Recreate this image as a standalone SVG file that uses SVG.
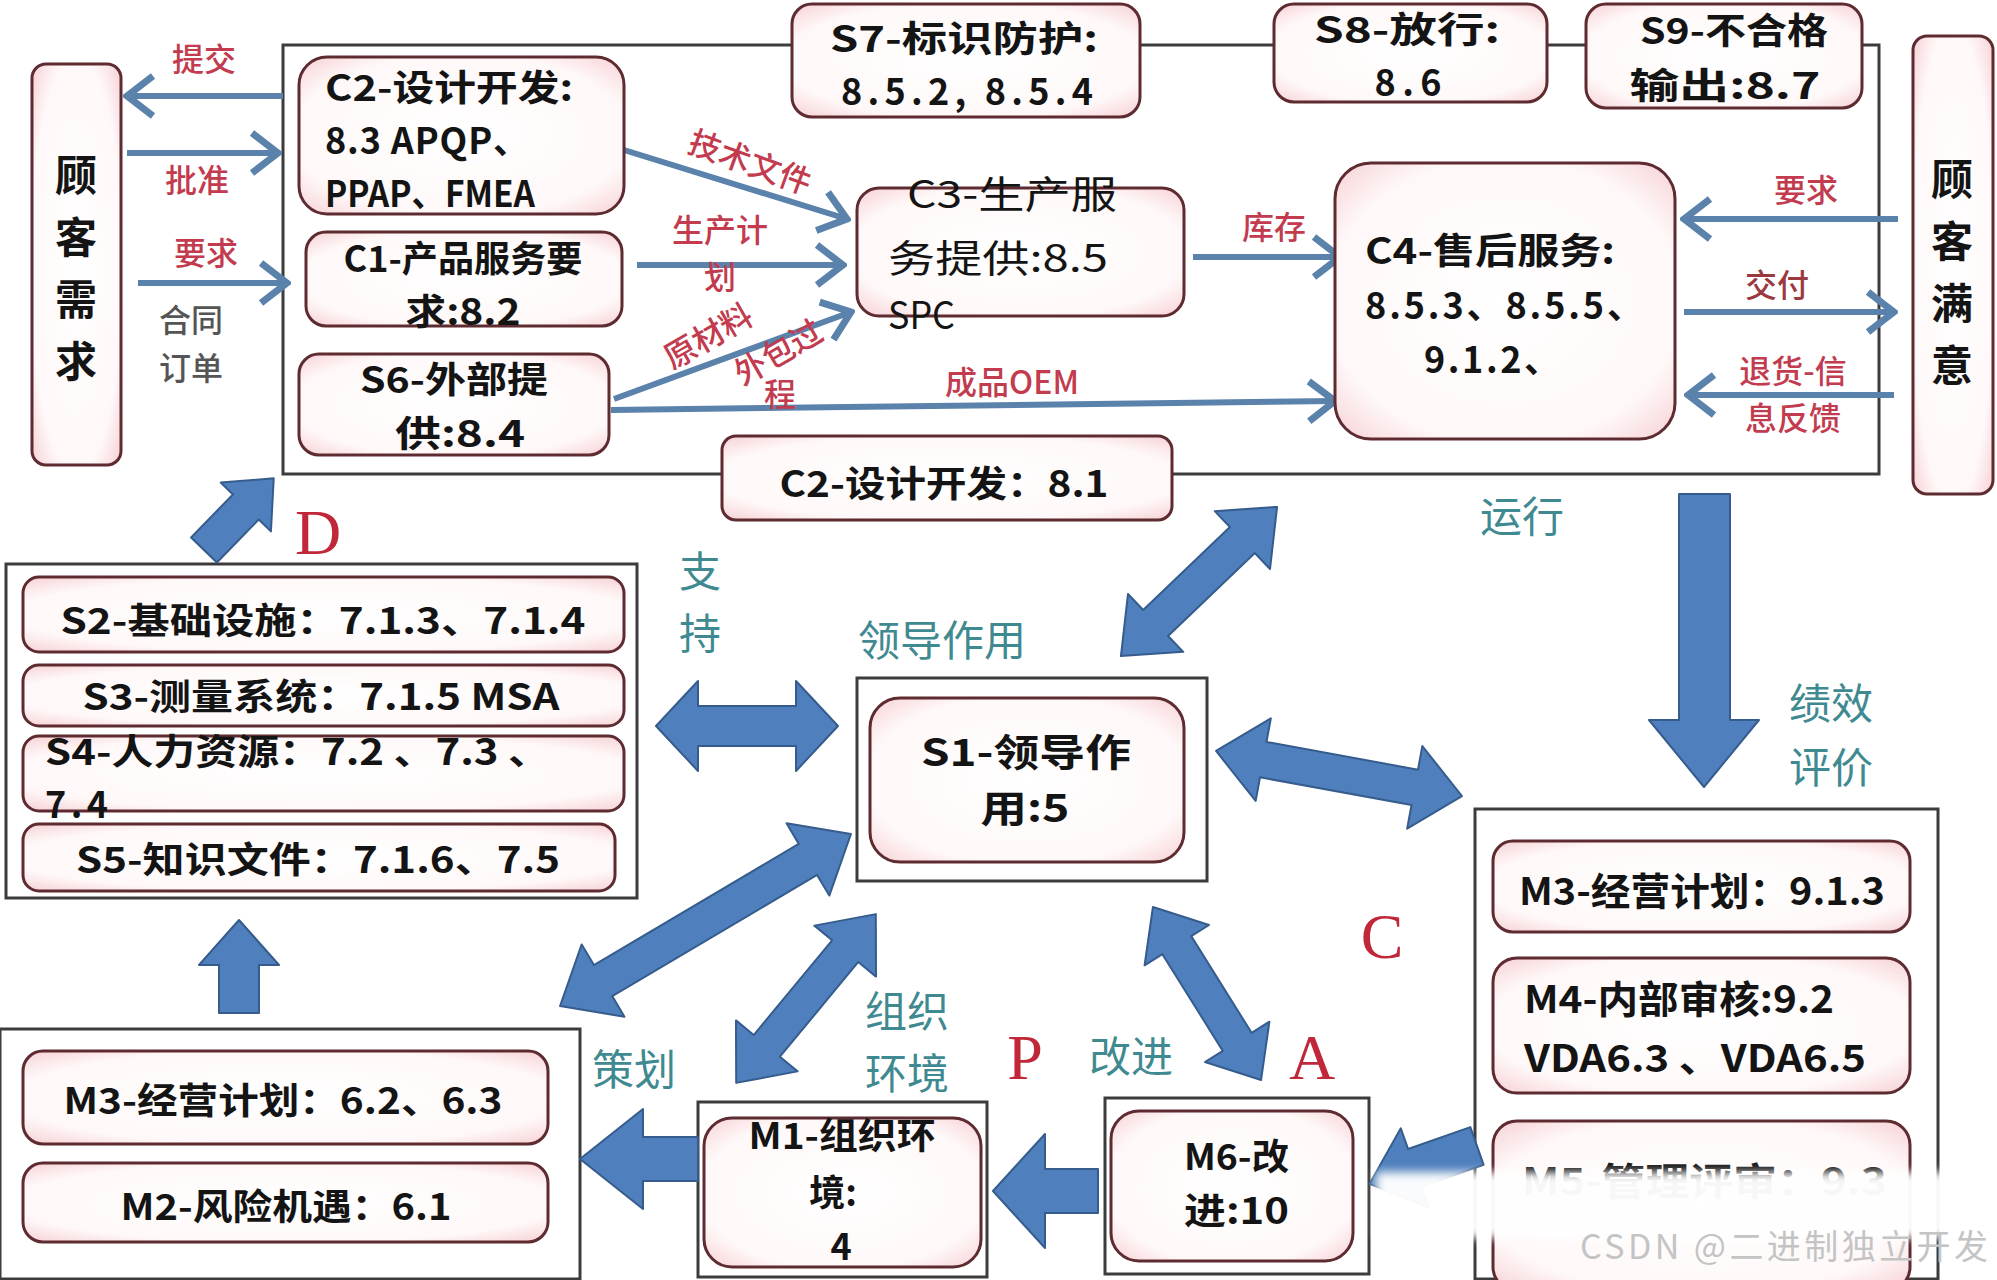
<svg xmlns="http://www.w3.org/2000/svg" width="1997" height="1280" viewBox="0 0 1997 1280">
<defs>
<radialGradient id="pk" cx="0.5" cy="0.5" r="0.72">
<stop offset="0" stop-color="#ffffff"/>
<stop offset="0.72" stop-color="#fff8f8"/>
<stop offset="1" stop-color="#f5cdd2"/>
</radialGradient>
<marker id="chev" markerUnits="userSpaceOnUse" viewBox="-32 -26 36 52" refX="0" refY="0" markerWidth="36" markerHeight="52" orient="auto">
<path d="M-26,-20 L0,0 L-26,20" fill="none" stroke="#5a82ab" stroke-width="7" stroke-linejoin="miter"/>
</marker>
<filter id="blur" x="-5%" y="-40%" width="110%" height="180%"><feGaussianBlur stdDeviation="5"/></filter>
<style>
.box{fill:url(#pk);stroke:#5e2b31;stroke-width:3}
.frame{fill:#fff;stroke:#3c3c3c;stroke-width:3}
.t{font-family:"Noto Sans CJK SC","Liberation Sans",sans-serif;font-weight:700;font-size:36px;fill:#141414;dominant-baseline:central}
.b{font-size:38px}
.v{font-size:42px;text-anchor:middle}
.r{font-weight:400;font-size:38px}
.m{text-anchor:middle}
.lr{font-family:"Noto Sans CJK SC","Liberation Sans",sans-serif;font-weight:500;font-size:32px;fill:#c23b4e;text-anchor:middle;dominant-baseline:central}
.lg{fill:#555}
.lt{font-family:"Noto Sans CJK SC","Liberation Sans",sans-serif;font-size:42px;fill:#3f8a90;text-anchor:middle;dominant-baseline:central}
.pd{font-family:"Liberation Serif",serif;font-size:64px;fill:#c0283a;text-anchor:middle;dominant-baseline:central}
.blk{fill:#4f80bd;stroke:#355c8c;stroke-width:2;stroke-linejoin:round}
.thin{stroke:#5a82ab;stroke-width:6;fill:none;marker-end:url(#chev)}
</style>
</defs>
<rect width="1997" height="1280" fill="#fff"/>

<g id="frames">
<rect class="frame" x="283" y="45" width="1596" height="429"/>
<rect class="frame" x="6" y="564" width="631" height="334"/>
<rect class="frame" x="857" y="678" width="350" height="203"/>
<rect class="frame" x="1475" y="809" width="463" height="470"/>
<rect class="frame" x="0" y="1029" width="580" height="250"/>
<rect class="frame" x="698" y="1102" width="289" height="175"/>
<rect class="frame" x="1105" y="1098" width="264" height="176"/>
</g>

<g id="connectors">
<line class="thin" x1="283" y1="96" x2="127" y2="96"/>
<line class="thin" x1="127" y1="153" x2="278" y2="153"/>
<line class="thin" x1="138" y1="283" x2="287" y2="283"/>
<line class="thin" x1="624" y1="150" x2="847" y2="219"/>
<line class="thin" x1="637" y1="265" x2="843" y2="265"/>
<line class="thin" x1="614" y1="399" x2="851" y2="312"/>
<line class="thin" x1="611" y1="410" x2="1335" y2="401"/>
<line class="thin" x1="1193" y1="257" x2="1340" y2="257"/>
<line class="thin" x1="1898" y1="219" x2="1684" y2="219"/>
<line class="thin" x1="1684" y1="312" x2="1894" y2="312"/>
<line class="thin" x1="1894" y1="395" x2="1688" y2="395"/>
<polygon class="blk" transform="translate(747,726)" points="-91,0 -49,-45 -49,-20 49,-20 49,-45 91,0 49,45 49,20 -49,20 -49,45"/>
<polygon class="blk" transform="translate(1199,581.5) rotate(-43.7)" points="-108,0 -60,-40 -60,-18 60,-18 60,-40 108,0 60,40 60,18 -60,18 -60,40"/>
<polygon class="blk" transform="translate(1339,773.5) rotate(10.4)" points="-125,0 -77,-42 -77,-18 77,-18 77,-42 125,0 77,42 77,18 -77,18 -77,42"/>
<polygon class="blk" transform="translate(705.5,920) rotate(-30.6)" points="-169,0 -119,-42 -119,-18 119,-18 119,-42 169,0 119,42 119,18 -119,18 -119,42"/>
<polygon class="blk" transform="translate(806,998.5) rotate(-50.4)" points="-109.5,0 -61.5,-40 -61.5,-17 61.5,-17 61.5,-40 109.5,0 61.5,40 61.5,17 -61.5,17 -61.5,40"/>
<polygon class="blk" transform="translate(1207,993.5) rotate(58)" points="-102,0 -57,-38 -57,-17 57,-17 57,-38 102,0 57,38 57,17 -57,17 -57,38"/>
<polygon class="blk" points="1679,494 1730,494 1730,720 1759,720 1704,787 1649,720 1679,720"/>
<polygon class="blk" points="1098,1169 1045,1169 1045,1134 993,1191 1045,1248 1045,1213 1098,1213"/>
<polygon class="blk" points="698,1137 643,1137 643,1109 580,1159 643,1209 643,1181 698,1181"/>
<polygon class="blk" points="219,1013 219,965 199,965 239,920 279,965 259,965 259,1013"/>
<polygon class="blk" transform="translate(204,550) rotate(-45.8)" points="0,-18 60,-18 60,-35 100,0 60,35 60,18 0,18"/>
<polygon class="blk" transform="translate(1477,1146) rotate(160.6)" points="0,-20 66,-20 66,-42 114,0 66,42 66,20 0,20"/>
</g>

<g id="n-cust-req"><rect class="box" x="32" y="64" width="89" height="401" rx="14"/>
<text class="t v"><tspan x="76" y="172">顾</tspan><tspan x="76" y="234">客</tspan><tspan x="76" y="296">需</tspan><tspan x="76" y="358">求</tspan></text></g>
<g id="n-cust-sat"><rect class="box" x="1913" y="36" width="80" height="458" rx="14"/>
<text class="t v"><tspan x="1952" y="176">顾</tspan><tspan x="1952" y="238">客</tspan><tspan x="1952" y="300">满</tspan><tspan x="1952" y="362">意</tspan></text></g>

<g id="n-c2"><rect class="box" x="299" y="57" width="325" height="157" rx="28"/>
<text class="t"><tspan x="325" y="85" textLength="248" lengthAdjust="spacingAndGlyphs">C2-设计开发:</tspan><tspan x="325" y="138" textLength="204">8.3 APQP、</tspan><tspan x="325" y="191" textLength="210" lengthAdjust="spacingAndGlyphs">PPAP、FMEA</tspan></text></g>
<g id="n-c1"><rect class="box" x="306" y="232" width="316" height="94" rx="20"/>
<text class="t m"><tspan x="463" y="256" textLength="239" lengthAdjust="spacingAndGlyphs">C1-产品服务要</tspan><tspan x="463" y="309" textLength="115" lengthAdjust="spacingAndGlyphs">求:8.2</tspan></text></g>
<g id="n-s6"><rect class="box" x="299" y="354" width="310" height="101" rx="20"/>
<text class="t m"><tspan x="454" y="377" textLength="188" lengthAdjust="spacingAndGlyphs">S6-外部提</tspan><tspan x="460" y="431" textLength="130" lengthAdjust="spacingAndGlyphs">供:8.4</tspan></text></g>
<g id="n-s7"><rect class="box" x="792" y="4" width="348" height="113" rx="20"/>
<text class="t m"><tspan x="964" y="36" textLength="268" lengthAdjust="spacingAndGlyphs">S7-标识防护:</tspan><tspan x="967" y="89" textLength="252">8.5.2, 8.5.4</tspan></text></g>
<g id="n-s8"><rect class="box" x="1274" y="4" width="273" height="98" rx="20"/>
<text class="t m"><tspan x="1407" y="27" textLength="186" lengthAdjust="spacingAndGlyphs">S8-放行:</tspan><tspan x="1408" y="80" textLength="67">8.6</tspan></text></g>
<g id="n-s9"><rect class="box" x="1586" y="4" width="276" height="104" rx="20"/>
<text class="t m"><tspan x="1734" y="28" textLength="188" lengthAdjust="spacingAndGlyphs">S9-不合格</tspan><tspan x="1725" y="83" textLength="191" lengthAdjust="spacingAndGlyphs">输出:8.7</tspan></text></g>
<g id="n-c3"><rect class="box" x="857" y="188" width="327" height="128" rx="22"/>
<text class="t r"><tspan x="1012" y="191" text-anchor="middle" textLength="210" lengthAdjust="spacingAndGlyphs">C3-生产服</tspan><tspan x="888" y="255" textLength="220" lengthAdjust="spacingAndGlyphs">务提供:8.5</tspan><tspan x="888" y="312" textLength="67" lengthAdjust="spacingAndGlyphs">SPC</tspan></text></g>
<g id="n-c4"><rect class="box" x="1335" y="163" width="340" height="276" rx="36"/>
<text class="t"><tspan x="1365" y="248" textLength="250" lengthAdjust="spacingAndGlyphs">C4-售后服务:</tspan><tspan x="1365" y="303" textLength="278">8.5.3、8.5.5、</tspan><tspan x="1424" y="357" textLength="136">9.1.2、</tspan></text></g>
<g id="n-c2b"><rect class="box" x="722" y="436" width="450" height="84" rx="14"/>
<text class="t m" x="944" y="481" textLength="329" lengthAdjust="spacingAndGlyphs">C2-设计开发：8.1</text></g>

<g id="n-s2"><rect class="box" x="23" y="577" width="601" height="75" rx="16"/>
<text class="t m" x="323" y="618" textLength="525" lengthAdjust="spacingAndGlyphs">S2-基础设施：7.1.3、7.1.4</text></g>
<g id="n-s3"><rect class="box" x="23" y="665" width="601" height="61" rx="16"/>
<text class="t m" x="321" y="694" textLength="477" lengthAdjust="spacingAndGlyphs">S3-测量系统：7.1.5  MSA</text></g>
<g id="n-s4"><rect class="box" x="23" y="736" width="601" height="75" rx="16"/>
<text class="t"><tspan x="45" y="749" textLength="505" lengthAdjust="spacingAndGlyphs">S4-人力资源：7.2 、7.3 、</tspan><tspan x="45" y="802" textLength="63">7.4</tspan></text></g>
<g id="n-s5"><rect class="box" x="23" y="824" width="592" height="67" rx="16"/>
<text class="t m" x="318" y="857" textLength="484" lengthAdjust="spacingAndGlyphs">S5-知识文件：7.1.6、7.5</text></g>

<g id="n-s1"><rect class="box" x="870" y="698" width="314" height="164" rx="30"/>
<text class="t m b"><tspan x="1026" y="749" textLength="210" lengthAdjust="spacingAndGlyphs">S1-领导作</tspan><tspan x="1025" y="805" textLength="89" lengthAdjust="spacingAndGlyphs">用:5</tspan></text></g>

<g id="n-m3b"><rect class="box" x="1493" y="841" width="417" height="91" rx="20"/>
<text class="t b" x="1519" y="888" textLength="366" lengthAdjust="spacingAndGlyphs">M3-经营计划：9.1.3</text></g>
<g id="n-m4"><rect class="box" x="1493" y="958" width="417" height="135" rx="24"/>
<text class="t b"><tspan x="1524" y="996" textLength="310" lengthAdjust="spacingAndGlyphs">M4-内部审核:9.2</tspan><tspan x="1524" y="1055" textLength="342" lengthAdjust="spacingAndGlyphs">VDA6.3 、VDA6.5</tspan></text></g>
<g id="n-m5"><rect class="box" x="1493" y="1121" width="417" height="170" rx="24"/>
<text class="t b" x="1522" y="1178" textLength="365" lengthAdjust="spacingAndGlyphs">M5-管理评审：9.3</text></g>

<g id="n-m3a"><rect class="box" x="23" y="1051" width="525" height="93" rx="20"/>
<text class="t m" x="283" y="1098" textLength="439" lengthAdjust="spacingAndGlyphs">M3-经营计划：6.2、6.3</text></g>
<g id="n-m2"><rect class="box" x="23" y="1163" width="525" height="79" rx="20"/>
<text class="t m" x="286" y="1204" textLength="331" lengthAdjust="spacingAndGlyphs">M2-风险机遇：6.1</text></g>
<g id="n-m1"><rect class="box" x="704" y="1118" width="277" height="149" rx="28"/>
<text class="t m"><tspan x="842" y="1133" textLength="187" lengthAdjust="spacingAndGlyphs">M1-组织环</tspan><tspan x="833" y="1190">境:</tspan><tspan x="841" y="1244">4</tspan></text></g>
<g id="n-m6"><rect class="box" x="1111" y="1111" width="242" height="150" rx="28"/>
<text class="t"><tspan x="1184" y="1154" textLength="105" lengthAdjust="spacingAndGlyphs">M6-改</tspan><tspan x="1184" y="1208" textLength="105" lengthAdjust="spacingAndGlyphs">进:10</tspan></text></g>

<g id="labels">
<text class="lr" x="204" y="57">提交</text>
<text class="lr" x="197" y="178">批准</text>
<text class="lr" x="206" y="251">要求</text>
<text class="lr lg"><tspan x="191" y="318">合同</tspan><tspan x="191" y="366">订单</tspan></text>
<text class="lr" x="751" y="160" transform="rotate(20 751 160)">技术文件</text>
<text class="lr"><tspan x="720" y="228">生产计</tspan><tspan x="720" y="275">划</tspan></text>
<text class="lr" x="707" y="334" transform="rotate(-30 707 334)">原材料</text>
<text class="lr" x="777" y="350" transform="rotate(-30 777 350)">外包过</text>
<text class="lr" x="780" y="392">程</text>
<text class="lr" x="1012" y="380">成品OEM</text>
<text class="lr" x="1274" y="225">库存</text>
<text class="lr" x="1806" y="188">要求</text>
<text class="lr" x="1777" y="283" style="fill:#9a3a40">交付</text>
<text class="lr"><tspan x="1793" y="369">退货-信</tspan><tspan x="1793" y="416">息反馈</tspan></text>
<text class="lt" x="1522" y="513">运行</text>
<text class="lt"><tspan x="700" y="568">支</tspan><tspan x="700" y="630">持</tspan></text>
<text class="lt" x="942" y="637">领导作用</text>
<text class="lt"><tspan x="1831" y="700">绩效</tspan><tspan x="1831" y="764">评价</tspan></text>
<text class="lt" x="634" y="1066">策划</text>
<text class="lt"><tspan x="907" y="1008">组织</tspan><tspan x="907" y="1070">环境</tspan></text>
<text class="lt" x="1131" y="1053">改进</text>
<text class="pd" x="318" y="532">D</text>
<text class="pd" x="1382" y="936">C</text>
<text class="pd" x="1025" y="1057">P</text>
<text class="pd" x="1312" y="1057">A</text>
</g>

<rect x="1376" y="1172" width="640" height="66" fill="#fff" opacity="0.97" filter="url(#blur)"/>
<text x="1784" y="1244" style="font-family:'Noto Sans CJK SC','Liberation Sans',sans-serif;font-size:34px;fill:#c4c4c4;text-anchor:middle;dominant-baseline:central" textLength="408">CSDN @二进制独立开发</text>
</svg>
